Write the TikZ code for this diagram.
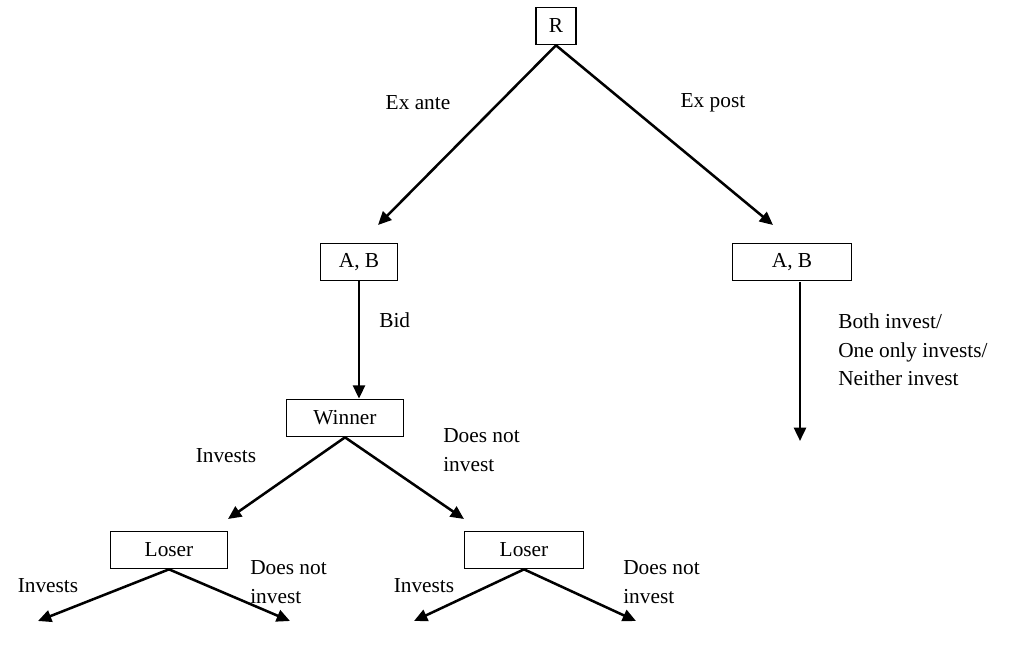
\documentclass[tikz,border=0pt]{standalone}
\usepackage{fontspec}
\setmainfont{Liberation Serif}
\usetikzlibrary{arrows.meta}

\begin{document}
\begin{tikzpicture}[x=0.75pt, y=-0.75pt,
	box/.style={draw, line width=1pt, minimum height=28pt, inner sep=0pt},
	branch/.style={line width=1.9pt, -{Triangle[length=10pt, width=9pt]}},
	lbl/.style={align=left, inner sep=0pt, font=\fontsize{16}{21.5}\selectfont}]

\def\width{1027}
\def\height{652}

\fontsize{16}{21.5}\selectfont
\path [use as bounding box] (0,0) rectangle (\width,\height);

% BOXES
\node [box, minimum width=30pt] (root) at (556,26) {R};
\node [box, minimum width=58pt] (abante) at (359,262) {A, B};
\node [box, minimum width=89pt] (abpost) at (792,262) {A, B};
\node [box, minimum width=88pt] (winner) at (345,418) {Winner};
\node [box, minimum width=88pt] (loserl) at (169,550) {Loser};
\node [box, minimum width=89pt] (loserr) at (524,550) {Loser};

% FREE ENDS
\coordinate (anteend) at (378,225);
\coordinate (postend) at (773,225);
\coordinate (poststart) at (800,282);
\coordinate (postdown) at (800,441);
\coordinate (winl) at (228,519);
\coordinate (winr) at (464,519);
\coordinate (ll) at (38,621);
\coordinate (lr) at (290,621);
\coordinate (rl) at (414,621);
\coordinate (rr) at (636,621);

% BRANCHES
\draw [branch] (root.south) -- (anteend);
\draw [branch] (root.south) -- (postend);
\draw [branch] (abante.south) -- (winner.north -| abante.south);
\draw [branch] (poststart) -- (postdown);
\draw [branch] (winner.south) -- (winl);
\draw [branch] (winner.south) -- (winr);
\draw [branch] (loserl.south) -- (ll);
\draw [branch] (loserl.south) -- (lr);
\draw [branch] (loserr.south) -- (rl);
\draw [branch] (loserr.south) -- (rr);

% LABELS
\node [lbl] (exante) at (418,103) {Ex ante};
\node [lbl] (expost) at (713,103) {Ex post};
\node [lbl, anchor=west] (bid) at (379,320) {Bid};
\node [lbl, anchor=west] (postacts) at (838,350) {Both invest/\\One only invests/\\Neither invest};
\node [lbl] (winyes) at (226,456) {Invests};
\node [lbl, anchor=west] (winno) at (443,450) {Does not\\invest};
\node [lbl] (lyes) at (48,586) {Invests};
\node [lbl, anchor=west] (lno) at (250,582) {Does not\\invest};
\node [lbl] (ryes) at (424,586) {Invests};
\node [lbl, anchor=west] (rno) at (623,582) {Does not\\invest};

\end{tikzpicture}
\end{document}
